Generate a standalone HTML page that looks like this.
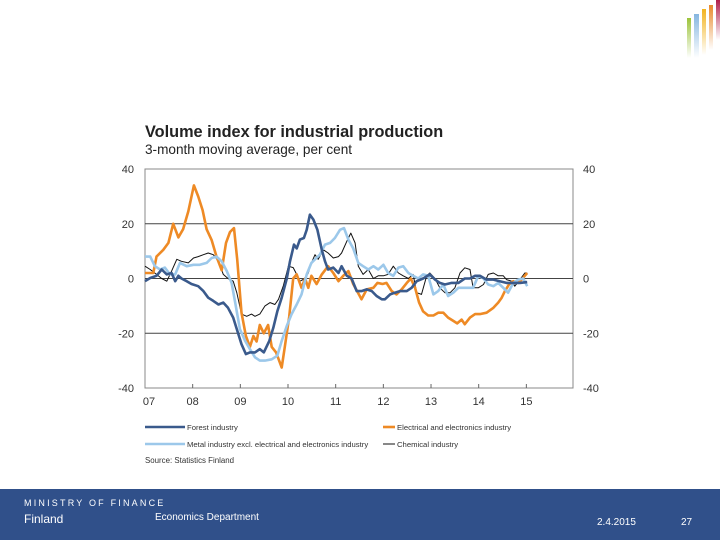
<!DOCTYPE html>
<html><head><meta charset="utf-8"><style>
body{margin:0;width:720px;height:540px;background:#fff;position:relative;overflow:hidden;font-family:"Liberation Sans",Arial,sans-serif}
.t{position:absolute;white-space:nowrap}
</style></head><body>
<div style="position:absolute;left:686px;top:0;width:34px;height:60px">
<div style="position:absolute;left:1px;top:18px;width:4px;height:40px;background:linear-gradient(#9cc33a,#fff)"></div>
<div style="position:absolute;left:8px;top:14px;width:5px;height:44px;background:linear-gradient(#86b6e0,#fff)"></div>
<div style="position:absolute;left:16px;top:9px;width:4px;height:46px;background:linear-gradient(#f2b320,#fff)"></div>
<div style="position:absolute;left:23px;top:5px;width:4px;height:45px;background:linear-gradient(#e88a2c,#fff)"></div>
<div style="position:absolute;left:30px;top:0;width:4px;height:40px;background:linear-gradient(#b01e4a,#fff)"></div>
</div>
<div class="t" style="left:145px;top:123px;font-size:16.3px;font-weight:bold;color:#222">Volume index for industrial production</div>
<div class="t" style="left:145px;top:142px;font-size:13.6px;color:#222">3-month moving average, per cent</div>
<svg id="chart" width="720" height="540" style="position:absolute;left:0;top:0"></svg>
<div style="position:absolute;left:0;top:489px;width:720px;height:51px;background:#30508a"></div>
<div class="t" style="left:24px;top:498px;font-size:9px;letter-spacing:2.2px;color:#fff">MINISTRY OF FINANCE</div>
<div class="t" style="left:24px;top:512px;font-size:12px;color:#fff">Finland</div>
<div class="t" style="left:155px;top:512px;font-size:10px;color:#fff">Economics Department</div>
<div class="t" style="left:597px;top:517px;font-size:10px;color:#fff">2.4.2015</div>
<div class="t" style="left:681px;top:517px;font-size:10px;color:#fff">27</div>
<script>
const yTicks=[40,20,0,-20,-40];
const yearLabels=["07","08","09","10","11","12","13","14","15"];
const forestT=[0,1.3,2.9,4.2,5.5,6.7,7.6,8.4,9.2,10.5,11.7,13.4,14.7,15.9,17.2,18.5,19.7,20.9,22.2,23.5,24.3,25.4,26.4,27.7,28.9,29.9,31.3,32.3,33.3,34.4,35.7,36.5,37.5,38.2,39,40,40.7,41.5,42.4,43.4,44.5,45.3,46.1,47.4,48.7,49.5,50.8,52,53.3,54.5,55.8,57.1,58.3,59.6,60.4,61.7,62.9,64.2,65.9,67.1,68.4,70,71.7,73,74.2,75.5,77.2,78.9,80.5,81.8,83.1,84.3,86,87.7,89.3,91,92.7,94.4,96.2];
const forestV=[-1,0.2,1,3.3,1.5,2,-1,1,0,-1,-2,-2.8,-4.6,-7,-8.2,-9.5,-8.8,-10.7,-14.3,-20.4,-24,-27.6,-27,-27,-25.8,-27,-22.8,-18,-12,-7,0,6.3,12.4,11,14.2,14.8,17.8,23.3,21.5,17.8,10.5,6.3,3.3,4,2,4.5,1,0,-4.6,-4.6,-4,-4.6,-6.4,-7.6,-7.6,-5.8,-5.2,-4.6,-4.6,-3.4,-1,0,1.5,-0.4,-1.6,-2.2,-1.6,-1.6,0,0,1,1,-0.4,-0.4,-1,-1.6,-1.6,-1.6,-1.3];
const elecT=[0,2.1,2.9,4.6,5.9,7.1,8.4,9.6,10.9,12.3,13.4,14.5,15.5,16.8,18,19.3,20.4,21.4,22.4,23.2,24.3,25.4,26.4,27.3,28.1,28.9,29.9,31,31.9,33,34.4,35.2,36.3,37.3,38.2,39.4,40.3,41.1,41.9,43.2,44.5,46.1,47.4,48.7,49.9,51.2,52.4,53.4,54.5,55.8,57.5,58.5,59.8,60.8,62.1,63.3,64.6,65.9,66.9,68,69,70,71.3,72.6,73.8,75.1,76.3,77.6,78.6,79.7,80.5,81.8,83.1,84.3,86,87.7,88.9,89.8,90.6,91.7,92.7,94,94.8,95.6,96.2];
const elecV=[2,2,8,10.5,13,20,15,18,24.5,34,30,25,18,14,8,3,13,17,18.4,7,-12.5,-21,-25,-21,-23,-17,-20,-17,-25,-27,-32.5,-25,-14,0,1.5,-3.4,0,-3.4,1,-2,1.5,4.5,2,-1,1,2.7,-2,-4.6,-7.6,-4,-3.4,-1.6,-2,-1.6,-4.6,-5.8,-4,-1.6,0,-3.4,-8.8,-12,-13.5,-13.5,-12.5,-12.5,-14.3,-15.5,-16.4,-15,-16.7,-14.3,-13,-13,-12.5,-10.7,-8.8,-7,-4.6,-2,-1,-1.6,-0.4,1,2];
const metalT=[0,1.3,2.5,3.8,5,6.3,7.6,8.8,10.5,12.2,13.8,15.5,16.8,18,19.3,20.6,21.8,22.7,23.9,25.2,26.4,27.7,28.9,30.2,31.9,33.3,34.4,35.7,36.9,38.2,39.4,40.7,41.9,42.8,44,45.3,46.6,47.8,49.1,50.1,51.2,52.4,53.7,54.9,56.2,57.5,58.7,60,61.2,62.5,63.8,65,66.3,67.5,68.8,70,71.3,72.6,73.8,75.1,76.3,77.6,78.9,80.1,81.4,82.6,83.9,85.2,86.4,87.7,88.9,90.2,91.4,92.7,94,95.2,96.2];
const metalV=[8,8,4.5,3.3,4,1.5,1.5,5.7,4.5,5,5,5.7,7.5,8,6.3,2.7,-1.6,-8.8,-18.5,-22.8,-25.8,-28.8,-30,-30,-29.5,-28.2,-22.8,-17.3,-13,-9.5,-5.8,1.5,5.7,7,8.7,12.4,13,14.8,17.8,18.4,14.2,11,5.7,4.5,3.3,4.5,3.3,5,2,1,4,4.5,2,1,0,1.5,1,-5.8,-4.6,-2.2,-6.4,-5.2,-3.4,-3.4,-3.4,-3.4,1,0,-2.2,-2.8,-1.6,-3.4,-5.2,-1.6,-0.4,0,-2.8];
const chemT=[0,1.3,2.9,4.2,5.5,6.7,8,9.2,10.9,12.2,13.4,14.7,15.9,17.2,18.5,19.7,20.9,22.2,23.1,24.3,25.6,26.8,27.7,28.9,30.2,31.5,32.7,33.6,34.8,36.1,37.3,38.2,39,40.3,41.1,41.9,42.8,43.6,44.9,46.1,47.4,48.7,49.5,50.8,51.8,52.9,53.7,54.9,56.2,57.5,58.7,60,61.2,62.5,63.8,65,66.3,67.5,68.4,69.6,70.9,71.7,73,74.2,75.5,76.8,78,79.3,80.5,81.8,82.6,83.9,85.2,86.4,87.7,88.9,90.2,91,92.3,93.1,94.4,95.6,96.2];
const chemV=[4.5,3.3,1.5,0,-1,2.7,7,6.3,5.7,7.5,8,8.7,9.3,8.7,6.3,1.5,0,-1,-5.2,-13,-13.8,-13,-13.8,-13,-10,-8.8,-9.5,-7.6,-2.8,4.5,4,1.5,-1,0,2,5.7,8.7,7,10.5,9.3,7.5,8,9.3,13.6,16.6,13,4.5,1.5,3.3,0,1,1,1.5,4.5,2,1,0,1.5,-5.2,-5.8,1,2,0,-3.4,-5.2,-5.2,-3.4,2,3.9,3.3,-3.4,-3.4,-2.2,1.5,2,1,1,-0.4,-1,-2.8,-0.4,2,2];

const svg=document.getElementById('chart');
const NS='http://www.w3.org/2000/svg';
const L=145,R=573,T=169,B=388,PX_PER_YEAR=47.67;
const yS=v=>278.5-v*(B-T)/80;
const xS=m=>L+m/12*PX_PER_YEAR;
function mk(tag,attrs){const e=document.createElementNS(NS,tag);for(const k in attrs)e.setAttribute(k,attrs[k]);svg.appendChild(e);return e;}
const frame=mk('rect',{x:L,y:T,width:R-L,height:B-T,fill:'none',stroke:'#888','stroke-width':1});


yTicks.forEach(v=>{
  const y=yS(v);
  if(v!==40&&v!==-40){const g=mk('line',{x1:L,x2:R,y1:y,y2:y,stroke:'#444','stroke-width':1});
  
  }
  const a=mk('text',{x:134,y:y+4,'font-size':11,'text-anchor':'end',fill:'#333'});a.textContent=v;
  
  
  const b=mk('text',{x:583,y:y+4,'font-size':11,fill:'#333'});b.textContent=v;
  
  
});
yearLabels.forEach((lab,i)=>{
  const x=xS(i*12);
  if(i>0){const tk=mk('line',{x1:x,x2:x,y1:B-4,y2:B,stroke:'#666'});
  
  }
  const t=mk('text',{x:i===0?x+4:x,y:B+17,'font-size':11,'text-anchor':'middle',fill:'#333'});t.textContent=lab;
  
  
});
function series(ts,vs,color,w,name){
  const d=ts.map((t,i)=>(i?'L':'M')+xS(t).toFixed(1)+','+yS(vs[i]).toFixed(1)).join('');
  const p=mk('path',{d:d,fill:'none',stroke:color,'stroke-width':w,'stroke-linejoin':'round'});
  
  
}
series(chemT,chemV,'#111',1,'line-chemical');
series(elecT,elecV,'#ee8a25',2.6,'line-electrical');
series(metalT,metalV,'#9cc8ea',2.6,'line-metal');
series(forestT,forestV,'#3a5a8c',2.6,'line-forest');
const leg=[['Forest industry','#3a5a8c',2.6,145,427],['Electrical and electronics industry','#ee8a25',2.6,383,427],['Metal industry excl. electrical and electronics industry','#9cc8ea',2.6,145,444],['Chemical industry','#111',1,383,444]];
leg.forEach(e=>{
  const l=mk('line',{x1:e[3],x2:e[3]+(e[3]>300?12:40),y1:e[4],y2:e[4],stroke:e[1],'stroke-width':e[2]});
  
  
  const t=mk('text',{x:e[3]+(e[3]>300?14:42),y:e[4]+3,'font-size':7.7,fill:'#333'});t.textContent=e[0];
  
  
});
const src=mk('text',{x:145,y:463,'font-size':7.9,fill:'#333'});src.textContent='Source: Statistics Finland';


</script>
</body></html>
